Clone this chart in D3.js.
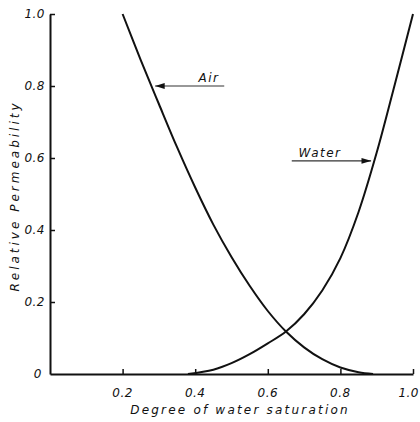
<!DOCTYPE html>
<html>
<head>
<meta charset="utf-8">
<script src="https://cdn.jsdelivr.net/npm/d3@7/dist/d3.min.js"></script>
<style>
  html, body { margin: 0; padding: 0; background: #fff; }
  svg { display: block; }
  text { font-family: "DejaVu Sans", sans-serif; font-style: italic; fill: #111; }
</style>
</head>
<body>
<svg id="chart" width="420" height="422"></svg>
<script>
// Relative permeability vs degree of water saturation
const airSat   = [0.20, 0.25, 0.30, 0.35, 0.40, 0.45, 0.50, 0.55, 0.60, 0.65, 0.70, 0.75, 0.80, 0.85, 0.89];
const airKr    = [1.00, 0.872, 0.75, 0.63, 0.518, 0.415, 0.325, 0.245, 0.175, 0.118, 0.074, 0.041, 0.018, 0.005, 0.0];
const waterSat = [0.38, 0.45, 0.50, 0.55, 0.60, 0.65, 0.70, 0.75, 0.80, 0.85, 0.90, 0.95, 1.00];
const waterKr  = [0.0, 0.012, 0.03, 0.055, 0.085, 0.118, 0.166, 0.232, 0.322, 0.45, 0.615, 0.805, 1.00];
const xTicks = [0.2, 0.4, 0.6, 0.8, 1.0];
const yTicks = [0, 0.2, 0.4, 0.6, 0.8, 1.0];
const xTickLabels = ["0.2", "0.4", "0.6", "0.8", "1.0"];
const yTickLabels = ["0", "0.2", "0.4", "0.6", "0.8", "1.0"];

const svg = d3.select("#chart");
const x = d3.scaleLinear().domain([0, 1]).range([50, 413]);
const y = d3.scaleLinear().domain([0, 1]).range([374, 14]);

// x axis: baseline with inward ticks
const xAxis = d3.axisTop(x).tickValues(xTicks).tickSize(5).tickSizeOuter(0).tickFormat("");
svg.append("g").attr("transform", `translate(0,${y(0)})`).call(xAxis)
  .call(g => g.select(".domain").attr("stroke", "#111").attr("stroke-width", 2))
  .call(g => g.selectAll(".tick line").attr("stroke", "#111").attr("stroke-width", 1.5));
svg.append("g").selectAll("text").data(xTicks).join("text")
  .attr("x", d => d === 1 ? 419 : x(d))
  .attr("text-anchor", d => d === 1 ? "end" : "middle")
  .attr("y", 397).attr("font-size", 12).attr("letter-spacing", 0.5)
  .text((d, i) => xTickLabels[i]);

// y axis: left line with inward ticks
const yAxis = d3.axisRight(y).tickValues(yTicks.filter(v => v > 0)).tickSize(5).tickSizeOuter(0).tickFormat("");
svg.append("g").attr("transform", `translate(${x(0)},0)`).call(yAxis)
  .call(g => g.select(".domain").attr("stroke", "#111").attr("stroke-width", 2))
  .call(g => g.selectAll(".tick line").attr("stroke", "#111").attr("stroke-width", 1.5));
svg.append("g").selectAll("text").data(yTicks).join("text")
  .attr("x", d => d === 0 ? 42 : 45).attr("y", d => y(d) + 4)
  .attr("text-anchor", "end").attr("font-size", 12).attr("letter-spacing", 0.5)
  .text((d, i) => yTickLabels[i]);

// axis titles
svg.append("text").attr("x", 240).attr("y", 414)
  .attr("text-anchor", "middle").attr("font-size", 12).attr("letter-spacing", 2.2)
  .text("Degree  of  water  saturation");
svg.append("text").attr("transform", `translate(19,${y(0.5) + 2}) rotate(-90)`)
  .attr("text-anchor", "middle").attr("font-size", 12).attr("letter-spacing", 3)
  .text("Relative  Permeability");

// curves
const line = d3.line().x(d => x(d[0])).y(d => y(d[1])).curve(d3.curveCatmullRom.alpha(0.5));
svg.append("path").datum(d3.zip(airSat, airKr)).attr("d", line)
  .attr("fill", "none").attr("stroke", "#111").attr("stroke-width", 2);
svg.append("path").datum(d3.zip(waterSat, waterKr)).attr("d", line)
  .attr("fill", "none").attr("stroke", "#111").attr("stroke-width", 2);

// labels with leader arrows
svg.append("defs").append("marker").attr("id", "arrow")
  .attr("viewBox", "0 0 10 6").attr("refX", 10).attr("refY", 3)
  .attr("markerWidth", 8).attr("markerHeight", 5).attr("orient", "auto")
  .append("path").attr("d", "M0,0 L10,3 L0,6 Z").attr("fill", "#111");

const labels = [
  { text: "Air",   sat: 0.284, kr: 0.80,  from: 0.48,  tx: 209, ty: 82 },
  { text: "Water", sat: 0.89,  kr: 0.592, from: 0.666, tx: 320, ty: 157 }
];
labels.forEach(l => {
  svg.append("line")
    .attr("x1", x(l.from)).attr("y1", y(l.kr))
    .attr("x2", x(l.sat) + (l.sat < 0.5 ? 2 : -2)).attr("y2", y(l.kr))
    .attr("stroke", "#333").attr("stroke-width", 1.2)
    .attr("marker-end", "url(#arrow)");
  svg.append("text").attr("x", l.tx).attr("y", l.ty)
    .attr("text-anchor", "middle").attr("font-size", 12).attr("letter-spacing", 1.5)
    .text(l.text);
});
</script>
</body>
</html>
